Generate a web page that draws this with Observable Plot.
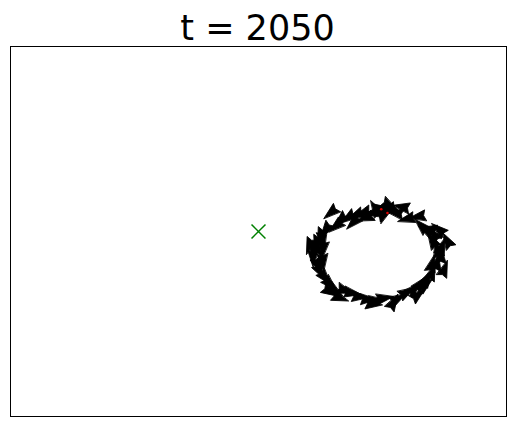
<!DOCTYPE html>
<html>
<head>
<meta charset="utf-8">
<script src="https://cdn.jsdelivr.net/npm/d3@7"></script>
<script src="https://cdn.jsdelivr.net/npm/@observablehq/plot@0.6"></script>
<style>
  body { margin: 0; background: #fff; }
  #title {
    width: 515px; height: 34px; padding-top: 11px;
    font: 35px/34px "DejaVu Sans", sans-serif;
    text-align: center; color: #000;
  }
</style>
</head>
<body>
<div id="title">t = 2050</div>
<div id="chart"></div>
<script>
// Swarm snapshot — agents drawn as quiver heads, target marked with an X

const agentX = [0.98, 1.05, 1.10, 1.01, 0.92, 1.19, 1.28, 0.84, 0.78, 0.72, 0.66, 0.62, 0.54, 0.50, 0.47, 0.44,
  0.52, 0.48, 0.48, 0.50, 0.54, 0.58, 0.52, 0.70, 0.76, 0.82, 0.89, 0.96, 1.02, 1.13, 1.09, 1.20,
  1.26, 1.31, 1.36, 1.40, 1.35, 1.44, 1.47, 1.44, 1.48, 1.40, 1.41, 1.35, 1.31, 1.37, 0.94, 1.06, 1.02,
  0.58, 0.41, 0.44, 0.58, 0.66, 0.93, 1.29, 1.50, 1.52, 1.45, 0.86, 1.15, 0.52, 0.62, 1.40, 0.76];
const agentY = [0.19, 0.17, 0.15, 0.13, 0.15, 0.10, 0.12, 0.15, 0.13, 0.11, 0.09, 0.04, 0.01, -0.04, -0.10, -0.15,
  -0.07, -0.15, -0.28, -0.33, -0.38, -0.43, -0.25, -0.48, -0.50, -0.53, -0.55, -0.56, -0.54, -0.54, -0.57, -0.49,
  -0.46, -0.42, -0.38, -0.33, -0.43, -0.25, -0.19, -0.14, -0.12, -0.07, -0.02, 0.01, 0.05, 0.02, 0.19, 0.21, 0.15,
  0.15, -0.12, -0.22, -0.49, -0.54, -0.59, -0.51, -0.30, -0.07, 0.02, 0.11, 0.20, -0.15, -0.48, -0.26, 0.07];
// heading in degrees, clockwise from north
const heading = [300, 240, 280, 200, 260, 255, 260, 250, 245, 235, 225, 230, 215, 200, 195, 190,
  170, 150, 160, 150, 140, 135, 175, 110, 100, 95, 90, 85, 80, 60, 30, 60,
  45, 40, 30, 20, 50, 10, 0, 345, 20, 330, 320, 300, 315, 280, 330, 120, 60,
  230, 200, 180, 120, 110, 95, 50, 20, 330, 310, 250, 280, 185, 125, 15, 225];

const targetX = [0];
const targetY = [0];

const markedX = [0.99, 1.04];
const markedY = [0.18, 0.15];

const agents = agentX.map((x, i) => ({x, y: agentY[i], a: heading[i]}));
const target = targetX.map((x, i) => ({x, y: targetY[i]}));
const marked = markedX.map((x, i) => ({x, y: markedY[i]}));

// matplotlib-style quiver head (arrow shorter than its head: notched triangle)
const quiverHead = {
  draw(context, l) {
    const w = l * 0.32;
    context.moveTo(0, -l);
    context.lineTo(w, 0);
    context.lineTo(0, -l * 0.12);
    context.lineTo(-w, 0);
    context.closePath();
  }
};

const plot = Plot.plot({
  width: 515,
  height: 381,
  marginTop: 1,
  marginLeft: 10,
  marginRight: 9,
  marginBottom: 10,
  x: {domain: [-2, 2], axis: null},
  y: {domain: [-1.5, 1.5], axis: null},
  marks: [
    Plot.frame({stroke: "#000", strokeWidth: 1}),
    Plot.dot(target, {x: "x", y: "y", symbol: "times", r: 6.4, stroke: "#008000", strokeWidth: 1.5}),
    Plot.vector(agents, {
      x: "x", y: "y", rotate: "a", length: 17, anchor: "middle",
      shape: quiverHead, fill: "#000", stroke: "#000", strokeWidth: 0.8
    }),
    Plot.dot(marked, {x: "x", y: "y", r: 1.3, fill: "#e00000", stroke: "none"}),
  ],
});
document.getElementById("chart").appendChild(plot);
</script>
</body>
</html>
